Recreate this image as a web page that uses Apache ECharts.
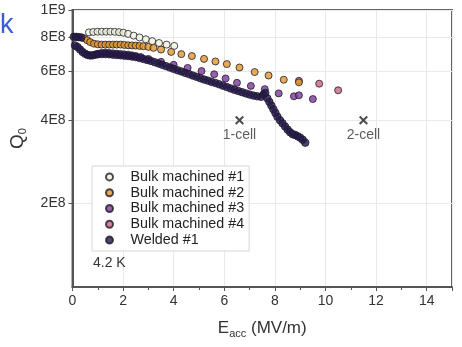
<!DOCTYPE html>
<html>
<head>
<meta charset="utf-8">
<script src="https://cdn.jsdelivr.net/npm/echarts@6/dist/echarts.min.js"></script>
<style>
  html, body { margin: 0; padding: 0; background: #fff; }
  #chart { width: 462px; height: 347px; }
</style>
</head>
<body>
<div id="chart"></div>
<script>
// Q0 vs Eacc, Q in units of 1E8
var bulk1E = [0.65, 0.82, 0.99, 1.16, 1.33, 1.5, 1.67, 1.84, 2.01, 2.2, 2.42, 2.65, 2.9, 3.15, 3.42, 3.72, 4.02];
var bulk1Q = [8.3, 8.33, 8.35, 8.35, 8.35, 8.35, 8.34, 8.32, 8.28, 8.2, 8.08, 7.96, 7.84, 7.72, 7.6, 7.5, 7.42];

var bulk2E = [0.46, 0.58, 0.7, 0.85, 1.0, 1.15, 1.3, 1.45, 1.6, 1.75, 1.9, 2.05, 2.2, 2.35, 2.5, 2.65, 2.8, 3.0, 3.2, 3.5, 3.9, 4.3, 4.72, 5.2, 5.65, 6.1, 6.6, 7.2, 7.75, 8.35, 8.95];
var bulk2Q = [7.9, 7.78, 7.66, 7.56, 7.52, 7.5, 7.5, 7.5, 7.5, 7.5, 7.5, 7.48, 7.46, 7.45, 7.44, 7.42, 7.4, 7.36, 7.3, 7.2, 7.06, 6.93, 6.82, 6.66, 6.52, 6.38, 6.2, 5.97, 5.8, 5.6, 5.48];

var bulk3E = [1.0, 1.15, 1.3, 1.45, 1.6, 1.75, 1.9, 2.05, 2.2, 2.35, 2.5, 2.7, 3.0, 3.5, 4.0, 4.55, 5.1, 5.6, 6.05, 6.5, 7.05, 7.6, 8.15, 8.75, 8.95, 9.5];
var bulk3Q = [6.95, 7.0, 7.02, 7.0, 6.98, 6.96, 6.94, 6.92, 6.9, 6.86, 6.82, 6.76, 6.66, 6.5, 6.34, 6.18, 6.02, 5.86, 5.66, 5.46, 5.32, 5.18, 5.0, 4.88, 4.92, 4.77];

var bulk4E = [8.95, 9.75, 10.5];
var bulk4Q = [5.55, 5.42, 5.13];

var weldE = [0.05, 0.15, 0.25, 0.35, 0.1, 0.2, 0.3, 0.4, 0.5, 0.6, 0.7, 0.8, 0.9, 1.0, 1.15, 1.3, 1.45, 1.6, 1.75, 1.9, 2.05, 2.2, 2.35, 2.5, 2.65, 2.8, 2.95,
  3.1, 3.25, 3.4, 3.55, 3.7, 3.85, 4.0, 4.15, 4.3, 4.45, 4.6, 4.75, 4.9, 5.05, 5.2, 5.35, 5.5, 5.65, 5.8, 5.95, 6.1, 6.25, 6.4, 6.55,
  6.7, 6.85, 7.0, 7.15, 7.3, 7.45, 7.55, 7.62, 7.7, 7.78, 7.86, 7.94, 8.02, 8.1, 8.2, 8.3, 8.4, 8.5, 8.6, 8.7, 8.8, 8.9, 9.0, 9.1, 9.2];
var weldQ = [8.0, 8.0, 7.98, 7.96, 7.45, 7.35, 7.2, 7.05, 6.95, 6.88, 6.85, 6.86, 6.9, 6.92, 6.93, 6.93, 6.92, 6.9, 6.88, 6.86, 6.84, 6.82, 6.79, 6.76, 6.71, 6.66, 6.6,
  6.55, 6.48, 6.41, 6.34, 6.27, 6.2, 6.13, 6.06, 6.0, 5.93, 5.87, 5.8, 5.74, 5.67, 5.61, 5.56, 5.5, 5.45, 5.39, 5.33, 5.27, 5.21, 5.15, 5.1,
  5.05, 5.0, 4.95, 4.91, 4.88, 4.86, 4.95, 5.02, 4.8, 4.66, 4.52, 4.38, 4.25, 4.12, 4.0, 3.9, 3.8, 3.7, 3.62, 3.56, 3.54, 3.5, 3.46, 3.4, 3.32];

var markE = [6.6, 11.5];
var markQ = [4.0, 4.0];
var markText = ["1-cell", "2-cell"];

var yTicks = [2, 4, 6, 8, 10];

function lg(q) {
  return Math.log10(q * 1e8);
}

function toPoints(es, qs) {
  var pts = [];
  for (var i = 0; i < es.length; i++) {
    pts.push([es[i], lg(qs[i])]);
  }
  return pts;
}

function dots(name, es, qs, fill, size) {
  return {
    name: name,
    type: "scatter",
    symbol: "circle",
    symbolSize: size || 7,
    data: toPoints(es, qs),
    itemStyle: {
      color: fill,
      borderColor: "#221b28",
      borderWidth: 1,
    },
  };
}

var crossPath = "path://M0,1.6L1.6,0L5,3.4L8.4,0L10,1.6L6.6,5L10,8.4L8.4,10L5,6.6L1.6,10L0,8.4L3.4,5Z";

var markPts = [];
for (var i = 0; i < markE.length; i++) {
  markPts.push({ value: [markE[i], lg(markQ[i])], name: markText[i] });
}

var myChart = echarts.init(document.getElementById("chart"));
var option = {
  animation: false,
  textStyle: { fontFamily: "Liberation Sans, Arial, sans-serif" },
  grid: {
    left: 70,
    right: 10,
    top: 10,
    bottom: 60,
    show: true,
    borderColor: "#666",
    borderWidth: 2,
  },
  graphic: [
    {
      type: "text",
      x: 0,
      y: 12,
      style: { text: "k", fontSize: 27, fill: "#3d5ad8", fontFamily: "Liberation Sans, Arial" },
    },
    {
      type: "text",
      x: 93,
      y: 256,
      z: 100,
      style: { text: "4.2 K", fontSize: 14, fill: "#333", fontFamily: "Liberation Sans, Arial" },
    },
  ],
  legend: {
    orient: "vertical",
    left: 92,
    top: 166,
    padding: [3, 5, 3, 13],
    itemGap: 0,
    itemWidth: 32,
    itemHeight: 7,
    borderColor: "#d6d6d6",
    borderWidth: 1,
    backgroundColor: "#fff",
    textStyle: { fontSize: 14.3, color: "#222", lineHeight: 15.8 },
    data: ["Bulk machined #1", "Bulk machined #2", "Bulk machined #3", "Bulk machined #4", "Welded #1"],
  },
  xAxis: {
    type: "value",
    min: 0,
    max: 15,
    interval: 2,
    name: "{e|E}{s|acc}{e| (MV/m)}",
    nameLocation: "middle",
    nameGap: 30,
    nameTextStyle: {
      color: "#333",
      rich: {
        e: { fontSize: 17, lineHeight: 22, color: "#333" },
        s: { fontSize: 11, lineHeight: 11, verticalAlign: "bottom", color: "#333" },
      },
    },
    axisLine: { show: true, lineStyle: { color: "#555", width: 2 } },
    axisTick: { show: true, length: 4, lineStyle: { color: "#555" } },
    minorTick: { show: true, splitNumber: 2, length: 3, lineStyle: { color: "#555" } },
    axisLabel: { fontSize: 14, color: "#333", margin: 7, showMaxLabel: false },
    splitLine: { show: true, lineStyle: { color: "#e9e9e9", width: 1 } },
  },
  yAxis: {
    type: "value",
    min: 8,
    max: 9,
    name: "{q|Q}{s|0}",
    nameLocation: "middle",
    nameGap: 44,
    nameTextStyle: {
      color: "#333",
      padding: [0, 0, 0, 20],
      rich: {
        q: { fontSize: 19, lineHeight: 22, color: "#333" },
        s: { fontSize: 11, lineHeight: 11, verticalAlign: "bottom", color: "#333" },
      },
    },
    axisLine: { show: true, lineStyle: { color: "#555", width: 2 } },
    axisTick: {
      show: true,
      length: 4,
      customValues: yTicks.map(lg),
      lineStyle: { color: "#555" },
    },
    axisLabel: {
      fontSize: 14,
      color: "#333",
      margin: 7,
      customValues: yTicks.map(lg),
      formatter: function (v) {
        var q = Math.pow(10, v);
        if (q > 9.5e8) return "1E9";
        return Math.round(q / 1e8) + "E8";
      },
    },
    splitLine: { show: true, lineStyle: { color: "#e9e9e9", width: 1 } },
  },
  series: [
    dots("Bulk machined #4", bulk4E, bulk4Q, "#c8657f"),
    dots("Bulk machined #2", bulk2E, bulk2Q, "#e0962a"),
    dots("Bulk machined #1", bulk1E, bulk1Q, "#eef3da"),
    dots("Bulk machined #3", bulk3E, bulk3Q, "#7a3a9a"),
    dots("Welded #1", weldE, weldQ, "#23164f", 7.5),
    {
      name: "cells",
      type: "scatter",
      symbol: crossPath,
      symbolSize: 9,
      data: markPts,
      itemStyle: { color: "#222" },
      label: {
        show: true,
        position: "bottom",
        distance: 3,
        formatter: "{b}",
        fontSize: 14,
        color: "#333",
      },
    },
  ],
};
myChart.setOption(option);
</script>
</body>
</html>
